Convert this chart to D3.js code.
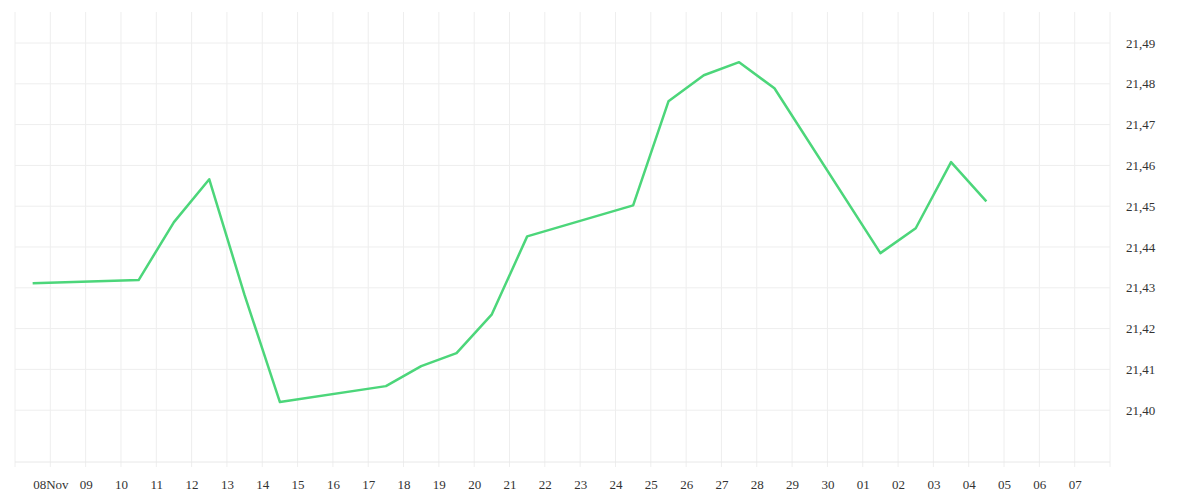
<!DOCTYPE html><html><head><meta charset="utf-8">
<script src="https://cdn.jsdelivr.net/npm/d3@7"></script>
<style>body{margin:0;background:#fff}text{font-family:"Liberation Serif",serif;font-size:13px;fill:#333}</style></head><body>
<svg id="c" width="1200" height="500"></svg>
<script>
const dates=["2023-11-07T12","2023-11-10T12","2023-11-11T12","2023-11-12T12","2023-11-13T12","2023-11-14T12","2023-11-17T12","2023-11-18T12","2023-11-19T12","2023-11-20T12","2023-11-21T12","2023-11-24T12","2023-11-25T12","2023-11-26T12","2023-11-27T12","2023-11-28T12","2023-12-01T12","2023-12-02T12","2023-12-03T12","2023-12-04T12"];
const values=[21.4311,21.4319,21.4461,21.4566,21.4282,21.4020,21.4059,21.4108,21.4140,21.4235,21.4426,21.4502,21.4757,21.4821,21.4853,21.4789,21.4385,21.4446,21.4608,21.4512];
const yTicks=[21.40,21.41,21.42,21.43,21.44,21.45,21.46,21.47,21.48,21.49];
const pd=d3.timeParse("%Y-%m-%dT%H");
const data=dates.map((d,i)=>({t:pd(d),v:values[i]}));
const svg=d3.select("#c");
const L=15,R=1110,T=12,B=462;
const x=d3.scaleTime().domain([new Date(2023,10,7),new Date(2023,11,8)]).range([L,R]);
const y=d3.scaleLinear().domain([21.3873,21.4976]).range([B,T]);
const days=d3.timeDay.range(new Date(2023,10,8),new Date(2023,11,8));
const g=svg.append("g");
g.selectAll(".v").data([new Date(2023,10,7),...days,new Date(2023,11,8)]).join("line").attr("x1",d=>x(d)).attr("x2",d=>x(d)).attr("y1",T).attr("y2",B+5).attr("stroke","#eee");
g.selectAll(".h").data(yTicks).join("line").attr("x1",L).attr("x2",R).attr("y1",d=>y(d)).attr("y2",d=>y(d)).attr("stroke","#eee");
g.append("line").attr("x1",L).attr("x2",R).attr("y1",B).attr("y2",B).attr("stroke","#e8e8e8");
const fmt=d=>d.getTime()===days[0].getTime()?"08Nov":d3.timeFormat("%d")(d);
const xa=svg.append("g").attr("transform",`translate(0,${B})`).call(d3.axisBottom(x).tickValues(days).tickFormat(fmt).tickSize(0).tickPadding(18));
xa.select(".domain").remove();
const ya=svg.append("g").attr("transform",`translate(${R},0)`).call(d3.axisRight(y).tickValues(yTicks).tickFormat(d=>d3.format(".2f")(d).replace(".",",")).tickSize(0).tickPadding(16));
ya.select(".domain").remove();
svg.selectAll(".tick text").style("font-family","Liberation Serif").style("font-size","13px").attr("fill","#333");
svg.append("path").datum(data).attr("fill","none").attr("stroke","#4cd67a").attr("stroke-width",2.5).attr("stroke-linejoin","round")
 .attr("d",d3.line().x(d=>x(d.t)).y(d=>y(d.v)));
</script></body></html>
